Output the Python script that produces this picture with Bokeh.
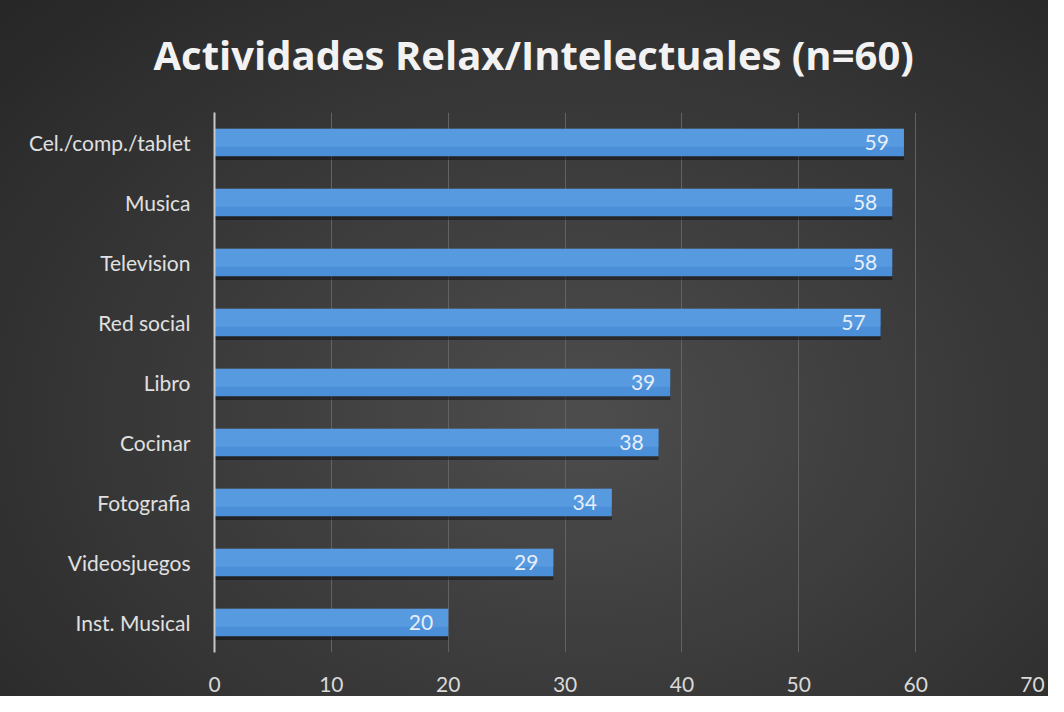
from bokeh.plotting import figure
from bokeh.embed import file_html
from bokeh.resources import INLINE
from bokeh.models import ColumnDataSource, FactorRange, Range1d, Title
from bokeh.transform import dodge
from bokeh.core.properties import value

categories = ["Cel./comp./tablet", "Musica", "Television", "Red social", "Libro",
              "Cocinar", "Fotografia", "Videosjuegos", "Inst. Musical"]
counts = [59, 58, 58, 57, 39, 38, 34, 29, 20]
x_ticks = [0, 10, 20, 30, 40, 50, 60, 70]
title_text = "Actividades Relax/Intelectuales (n=60)"

src = ColumnDataSource(dict(cat=categories, val=counts, lab=[str(v) for v in counts]))

FONT = "Lato"
W, H = 1048, 696

p = figure(width=W, height=H, output_backend="svg", toolbar_location=None,
           y_range=FactorRange(*reversed(categories)), x_range=Range1d(0, 70),
           min_border_left=214, min_border_right=16, min_border_top=112, min_border_bottom=44)

p.background_fill_alpha = 0
p.border_fill_alpha = 0
p.outline_line_color = None
p.styles = {"background": "radial-gradient(ellipse at 55% 60%, #4d4d4d 0%, #3b3b3b 45%, #262626 100%)"}

p.title.text = title_text
p.title.align = "left"
p.title.offset = -61
p.title.text_color = "#f2f2f2"
p.title.text_font = "Open Sans"
p.title.text_font_style = "bold"
p.title.text_font_size = "40px"

spacer = Title(text=" ", text_font_size="12px")
p.add_layout(spacer, "above")

# shadow
p.hbar(y=dodge("cat", -0.06, range=p.y_range), right="val", left=0, height=0.46,
       source=src, fill_color="#000000", fill_alpha=0.4, line_color=None)
# bar body
p.hbar(y="cat", right="val", left=0, height=0.46, source=src,
       fill_color="#4a8fd8", line_color=None)
# lighter top band
p.hbar(y=dodge("cat", 0.08, range=p.y_range), right="val", left=0, height=0.30, source=src,
       fill_color="#6aa9ea", fill_alpha=0.45, line_color=None)

p.text(x="val", y="cat", text="lab", source=src, x_offset=-15,
       text_align="right", text_baseline="middle", text_color="#e6eef8",
       text_font=value(FONT), text_font_size="21px")

p.xaxis.ticker = x_ticks
p.xaxis.axis_line_color = None
p.xaxis.major_tick_line_color = None
p.xaxis.minor_tick_line_color = None
p.xaxis.major_label_text_color = "#d9d9d9"
p.xaxis.major_label_text_font = FONT
p.xaxis.major_label_text_font_size = "21px"
p.xaxis.major_label_standoff = 18

p.yaxis.axis_line_color = "#c8c8c8"
p.yaxis.axis_line_width = 2
p.yaxis.major_tick_line_color = None
p.yaxis.minor_tick_line_color = None
p.yaxis.major_label_text_color = "#e0e0e0"
p.yaxis.major_label_text_font = FONT
p.yaxis.major_label_text_font_size = "21px"
p.yaxis.major_label_standoff = 18

p.xgrid.grid_line_color = "#626262"
p.xgrid.grid_line_width = 1
p.ygrid.grid_line_color = None

open("out.html", "w").write(file_html(p, INLINE))
